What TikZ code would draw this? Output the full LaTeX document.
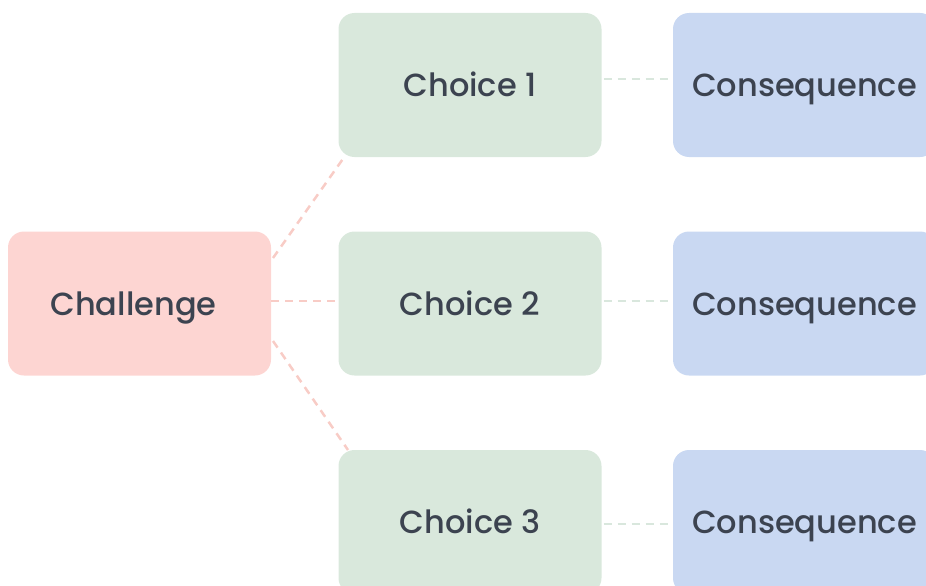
\documentclass[tikz,border=0pt]{standalone}
\usepackage{fontspec}
\setmainfont{Poppins}[UprightFont={* Medium}]
\definecolor{txt}{HTML}{3C4350}
\definecolor{pinkbox}{HTML}{FDD5D2}
\definecolor{greenbox}{HTML}{D9E8DC}
\definecolor{bluebox}{HTML}{C9D8F2}
\definecolor{pinkline}{HTML}{F8CCC6}
\definecolor{greenline}{HTML}{D9E7DD}
\tikzset{
  card/.style={rounded corners=16pt, minimum width=263pt, minimum height=144pt, inner sep=0pt, text height=23pt, text depth=0pt, text=txt, font=\fontsize{32}{38}\selectfont},
  chal/.style={card, fill=pinkbox},
  choicebox/.style={card, fill=greenbox},
  consbox/.style={card, fill=bluebox},
  plink/.style={draw=pinkline, line width=2.5pt, dash pattern=on 8pt off 6pt},
  glink/.style={draw=greenline, line width=2.5pt, dash pattern=on 8pt off 6pt},
}
\begin{document}
\begin{tikzpicture}[x=1pt,y=-1pt]
\useasboundingbox (0,0) rectangle (926,586);
\begin{scope}
\clip (0,0) rectangle (926,586);
\node[chal] (ch) at (139.5,303.5) {Challenge\hspace*{12pt}};
\node[choicebox] (c1) at (470,85) {Choice 1};
\node[choicebox] (c2) at (470,303.5) {Choice 2};
\node[choicebox] (c3) at (470,522) {Choice 3};
\node[consbox] (q1) at (804.5,85) {Consequence};
\node[consbox] (q2) at (804.5,303.5) {Consequence};
\node[consbox] (q3) at (804.5,522) {Consequence};
\coordinate (a1) at (273,258);
\coordinate (b1) at (345,156);
\coordinate (a3) at (273,341);
\coordinate (b3) at (348,450);
\draw[plink] (a1) -- (b1);
\draw[plink] (ch.east |- 0,301) -- (c2.west |- 0,301);
\draw[plink] (a3) -- (b3);
\draw[glink] ([xshift=2pt]c1.east |- 0,79) -- ([xshift=-4pt]q1.west |- 0,79);
\draw[glink] ([xshift=2pt]c2.east |- 0,301) -- ([xshift=-4pt]q2.west |- 0,301);
\draw[glink] ([xshift=2pt]c3.east |- 0,524) -- ([xshift=-4pt]q3.west |- 0,524);
\end{scope}
\end{tikzpicture}
\end{document}
